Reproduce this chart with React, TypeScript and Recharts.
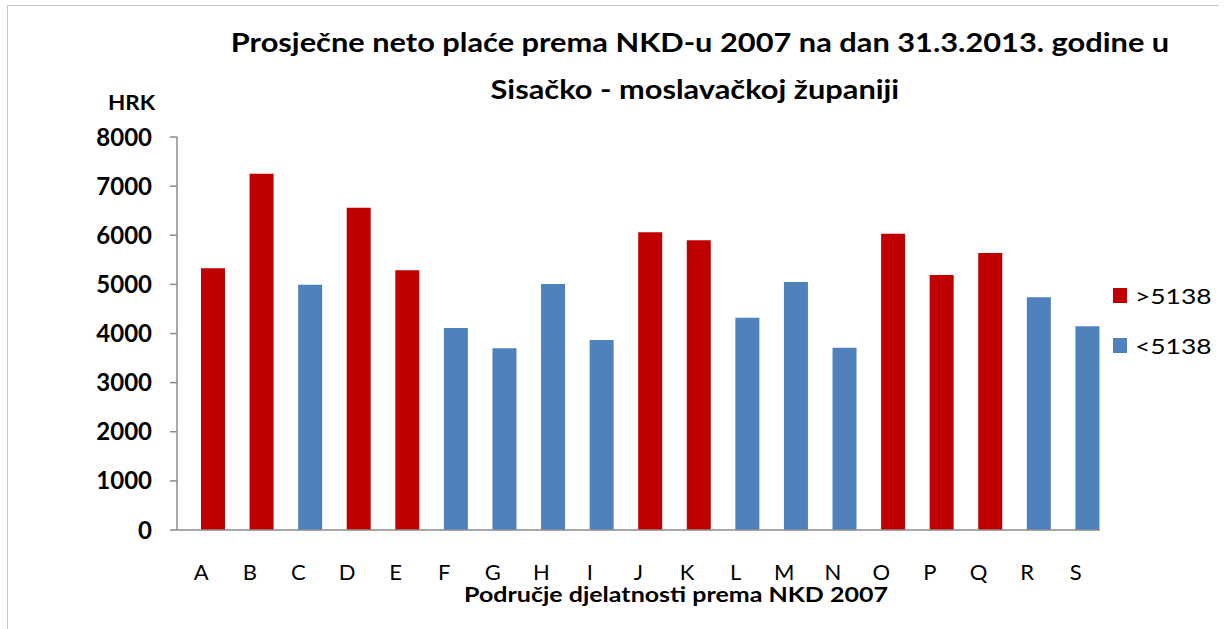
import React from "react";
import { BarChart, Bar, XAxis, YAxis, Legend } from "recharts";

const categories = ["A", "B", "C", "D", "E", "F", "G", "H", "I", "J", "K", "L", "M", "N", "O", "P", "Q", "R", "S"];
const aboveValues = [5330, 7250, null, 6560, 5290, null, null, null, null, 6060, 5900, null, null, null, 6030, 5190, 5640, null, null];
const belowValues = [null, null, 4990, null, null, 4110, 3700, 5010, 3870, null, null, 4320, 5050, 3710, null, null, null, 4740, 4150];
const yTicks = [0, 1000, 2000, 3000, 4000, 5000, 6000, 7000, 8000];
const seriesNames = [">5138", "<5138"];

const titleLines = ["Prosječne neto plaće prema NKD-u 2007 na dan 31.3.2013. godine u", "Sisačko - moslavačkoj županiji"];
const yUnit = "HRK";
const xTitle = "Područje djelatnosti prema NKD 2007";

const data = categories.map((c, i) => ({
  cat: c,
  spacer: 0,
  above: aboveValues[i],
  below: belowValues[i],
}));

const FONT = "Lato, 'Open Sans', sans-serif";

const renderLegend = (props: any) => {
  const items = (props.payload || [])
    .filter((p: any) => seriesNames.indexOf(p.value) >= 0)
    .sort((a: any, b: any) => seriesNames.indexOf(a.value) - seriesNames.indexOf(b.value));
  return (
    <div style={{ fontFamily: FONT }}>
      {items.map((it: any, i: number) => (
        <div key={i} style={{ display: "flex", alignItems: "center", height: 50 }}>
          <div style={{ width: 14, height: 15, background: it.color, marginRight: 8 }} />
          <span style={{ display: "inline-block", fontSize: 22, color: "#000", transform: "scaleX(1.2)", transformOrigin: "left center" }}>{it.value}</span>
        </div>
      ))}
    </div>
  );
};

export default function App() {
  return (
    <div style={{ position: "absolute", left: 0, top: 0, width: 1227, height: 629, overflow: "hidden", background: "#fff" }}>
      <div style={{ position: "absolute", left: 7, top: 5, width: 1211, height: 640, borderTop: "1px solid #c6c6c6", borderLeft: "1px solid #c6c6c6" }} />
      <div style={{ position: "absolute", left: 200, top: 18, width: 1000, textAlign: "center", fontFamily: FONT, fontWeight: "bold", fontSize: 27, lineHeight: "47px", color: "#000", transform: "scaleX(1.14)", transformOrigin: "center top" }}>
        {titleLines.map((t, i) => (
          <div key={i} style={{ marginLeft: i === 1 ? -9 : 0 }}>{t}</div>
        ))}
      </div>
      <div style={{ position: "absolute", left: 108, top: 91, fontFamily: FONT, fontWeight: "bold", fontSize: 21, lineHeight: "21px", color: "#000", transform: "scaleX(1.07)", transformOrigin: "left top" }}>
        {yUnit}
      </div>
      <div style={{ position: "absolute", left: 376, top: 584, width: 600, textAlign: "center", fontFamily: FONT, fontWeight: "bold", fontSize: 20, lineHeight: "20px", color: "#000", transform: "scaleX(1.25)", transformOrigin: "center top" }}>
        {xTitle}
      </div>
      <div style={{ position: "absolute", left: 0, top: 0 }}>
        <BarChart
          width={1227}
          height={629}
          data={data}
          margin={{ top: 137, right: 127, bottom: 69, left: 97 }}
          barCategoryGap={0}
          barGap={0}
        >
          <XAxis
            dataKey="cat"
            tickLine={false}
            tickSize={0}
            tickMargin={34}
            height={30}
            axisLine={{ stroke: "#8c8c8c", strokeWidth: 1.5 }}
            tick={{ fontSize: 22, fill: "#000", fontFamily: FONT }}
            interval={0}
          />
          <YAxis
            width={80}
            domain={[0, 8000]}
            ticks={yTicks}
            tickSize={7}
            tickMargin={18}
            axisLine={{ stroke: "#8c8c8c", strokeWidth: 1.5 }}
            tickLine={{ stroke: "#8c8c8c", strokeWidth: 1.5 }}
            tick={{ fontSize: 24, fill: "#000", fontFamily: FONT, fontWeight: "bold" }}
            interval={0}
          />
          <Legend
            layout="vertical"
            verticalAlign="middle"
            align="center"
            wrapperStyle={{ position: "absolute", left: 1113, top: 270, width: 110 }}
            content={renderLegend}
          />
          <Bar dataKey="spacer" stackId="pad" legendType="none" fill="transparent" isAnimationActive={false} />
          <Bar dataKey="above" name=">5138" stackId="s" fill="#C00000" isAnimationActive={false} />
          <Bar dataKey="below" name="<5138" stackId="s" fill="#4F81BD" isAnimationActive={false} />
        </BarChart>
      </div>
    </div>
  );
}
